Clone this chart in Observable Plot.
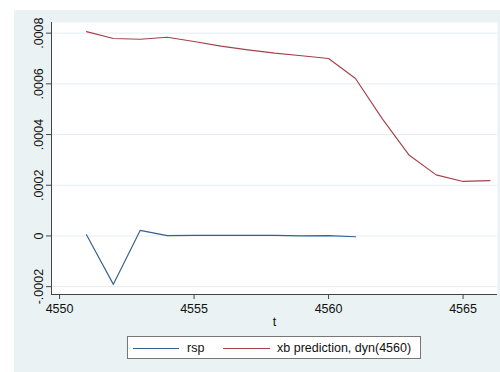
<!DOCTYPE html>
<html>
<head>
<meta charset="utf-8">
<script src="https://cdn.jsdelivr.net/npm/d3@7"></script>
<script src="https://cdn.jsdelivr.net/npm/@observablehq/plot@0.6"></script>
<style>
  body { margin: 0; background: #ffffff; font-family: "Liberation Sans", Arial, sans-serif; }
  #wrap { position: relative; width: 500px; height: 372px; overflow: hidden; background: #ffffff; }
  #bg { position: absolute; left: 14px; top: 10px; width: 486px; height: 362px; background: #eaf2f3; }
  #chart { position: absolute; left: 0; top: 0; }
  #legend { position: absolute; left: 127px; top: 336px; width: 292px; height: 21px; background: #ffffff; border: 1px solid #777777; font-size: 12.5px; color: #111; }
  #legend .sw { position: absolute; top: 11px; height: 0; border-top: 1px solid; }
  #legend .lab { position: absolute; top: 1px; line-height: 21px; white-space: nowrap; }
</style>
</head>
<body>
<div id="wrap">
  <div id="bg"></div>
  <div id="chart"></div>
  <div id="legend"></div>
</div>
<script>
// ---- data ----
const tRsp = [4551, 4552, 4553, 4554, 4555, 4556, 4557, 4558, 4559, 4560, 4561];
const rspValues = [0.000005, -0.000191, 0.000022, 0.000001, 0.000002, 0.000002, 0.000002, 0.000002, 0.000000, 0.000001, -0.000003];
const tXb = [4551, 4552, 4553, 4554, 4555, 4556, 4557, 4558, 4559, 4560, 4561, 4562, 4563, 4564, 4565, 4566];
const xbValues = [0.000806, 0.000779, 0.000776, 0.000784, 0.000767, 0.000749, 0.000734, 0.000721, 0.000711, 0.000700, 0.000621, 0.000462, 0.000318, 0.000241, 0.000215, 0.000218];
const seriesNames = ["rsp", "xb prediction, dyn(4560)"];
const seriesColors = ["#35618e", "#a3424b"];
const xTicks = [4550, 4555, 4560, 4565];
const yTicks = [-0.0002, 0, 0.0002, 0.0004, 0.0006, 0.0008];
const xLabel = "t";

const rspData = tRsp.map((t, i) => ({ t, v: rspValues[i] }));
const xbData = tXb.map((t, i) => ({ t, v: xbValues[i] }));

const xDomain = [4549.70, 4566.28];
const yDomain = [-0.000231, 0.000842];

const fmtY = d => {
  if (Math.abs(d) < 1e-12) return "0";
  return d.toFixed(4).replace("0.", ".");
};

const chart = Plot.plot({
  width: 500,
  height: 330,
  marginLeft: 51,
  marginRight: 3,
  marginTop: 22,
  marginBottom: 36,
  style: { background: "transparent", fontFamily: "'Liberation Sans', Arial, sans-serif", fontSize: "12.5px", color: "#111", overflow: "visible" },
  x: { domain: xDomain },
  y: { domain: yDomain },
  marks: [
    Plot.frame({ fill: "#ffffff", stroke: "none" }),
    Plot.ruleY(yTicks, { stroke: "#e5eef0", strokeWidth: 1 }),
    Plot.line(rspData, { x: "t", y: "v", stroke: seriesColors[0], strokeWidth: 1.15 }),
    Plot.line(xbData, { x: "t", y: "v", stroke: seriesColors[1], strokeWidth: 1.15 }),
    Plot.axisY({ ticks: yTicks, tickFormat: fmtY, tickRotate: -90, tickSize: 5, tickPadding: 3.5, label: null, stroke: "#444" }),
    Plot.axisX({ ticks: xTicks, tickFormat: d => String(d), tickSize: 5, tickPadding: 5, label: null, stroke: "#444" }),
    Plot.ruleX([xDomain[0]], { stroke: "#444", strokeWidth: 1 }),
    Plot.ruleY([yDomain[0]], { stroke: "#444", strokeWidth: 1 }),
    Plot.text([xLabel], { text: d => d, frameAnchor: "bottom", lineAnchor: "top", dy: 23, fill: "#111" })
  ]
});
document.getElementById("chart").appendChild(chart);

// ---- legend ----
const legend = document.getElementById("legend");
const legendLayout = [
  { swLeft: 5, swWidth: 46, labLeft: 59 },
  { swLeft: 95, swWidth: 47, labLeft: 149 }
];
seriesNames.forEach((name, i) => {
  const sw = document.createElement("span");
  sw.className = "sw";
  sw.style.left = legendLayout[i].swLeft + "px";
  sw.style.width = legendLayout[i].swWidth + "px";
  sw.style.borderColor = seriesColors[i];
  legend.appendChild(sw);
  const lab = document.createElement("span");
  lab.className = "lab";
  lab.style.left = legendLayout[i].labLeft + "px";
  lab.textContent = name;
  legend.appendChild(lab);
});
</script>
</body>
</html>
